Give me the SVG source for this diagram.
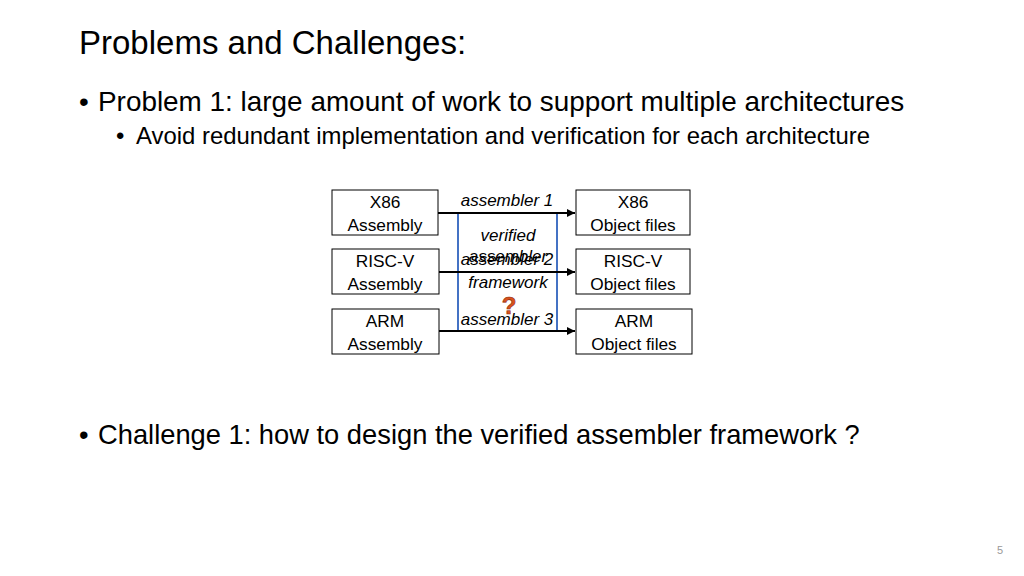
<svg xmlns="http://www.w3.org/2000/svg" width="1024" height="576" viewBox="0 0 1024 576">
<defs>
<style>
text{font-family:"Liberation Sans",Arial,sans-serif;fill:#000}
.title{font-size:33px;font-weight:300}
.b1{font-size:27.9px}
.b3{font-size:27.3px}
.b2{font-size:23.9px}
.nt{font-size:17.3px;text-anchor:middle}
.lab{font-size:17px;font-style:italic;text-anchor:middle}
.box{fill:#fff;stroke:#000;stroke-width:1}
.arr{stroke:#000;stroke-width:2;fill:none}
.blue{stroke:#4472C4;stroke-width:2;fill:none}
</style>
<marker id="ah" viewBox="0 0 10 10" refX="10" refY="5" markerWidth="4" markerHeight="4" orient="auto">
<path d="M0,0 L10,5 L0,10 z" fill="#000"/>
</marker>
</defs>
<rect width="1024" height="576" fill="#fff"/>
<text class="title" x="79" y="54">Problems and Challenges:</text>
<text class="b1" x="79" y="111">•</text>
<text class="b1" x="98" y="111">Problem 1: large amount of work to support multiple architectures</text>
<text class="b2" x="116" y="144">•</text>
<text class="b2" x="136" y="144">Avoid redundant implementation and verification for each architecture</text>
<text class="b3" x="79" y="444">•</text>
<text class="b3" x="98" y="444">Challenge 1: how to design the verified assembler framework ?</text>
<g id="connectors">
<line class="blue" x1="458" y1="213" x2="458" y2="331"/>
<line class="blue" x1="557" y1="213" x2="557" y2="331"/>
<line class="arr" x1="438" y1="213" x2="575" y2="213" marker-end="url(#ah)"/>
<line class="arr" x1="439" y1="272" x2="575" y2="272" marker-end="url(#ah)"/>
<line class="arr" x1="439" y1="331" x2="575" y2="331" marker-end="url(#ah)"/>
</g>
<g id="labels">
<text class="lab" x="507" y="206">assembler 1</text>
<text class="lab" x="508" y="241">verified</text>
<text class="lab" x="508" y="262">assembler</text>
<text class="lab" x="507" y="265">assembler 2</text>
<text class="lab" x="508" y="288">framework</text>
<text x="509" y="314" style="font-size:24px;font-weight:bold;fill:#D9531E;text-anchor:middle;stroke:#8B2A0A;stroke-width:0.6">?</text>
<text class="lab" x="507" y="325">assembler 3</text>
</g>
<g id="n1"><rect class="box" x="332" y="190" width="106" height="45"/><text class="nt" x="385" y="208">X86</text><text class="nt" x="385" y="231">Assembly</text></g>
<g id="n2"><rect class="box" x="332" y="249" width="107" height="45"/><text class="nt" x="385" y="267">RISC-V</text><text class="nt" x="385" y="290">Assembly</text></g>
<g id="n3"><rect class="box" x="332" y="309" width="107" height="45"/><text class="nt" x="385" y="327">ARM</text><text class="nt" x="385" y="350">Assembly</text></g>
<g id="n4"><rect class="box" x="576" y="190" width="114" height="45"/><text class="nt" x="633" y="208">X86</text><text class="nt" x="633" y="231">Object files</text></g>
<g id="n5"><rect class="box" x="576" y="249" width="114" height="45"/><text class="nt" x="633" y="267">RISC-V</text><text class="nt" x="633" y="290">Object files</text></g>
<g id="n6"><rect class="box" x="576" y="309" width="116" height="45"/><text class="nt" x="634" y="327">ARM</text><text class="nt" x="634" y="350">Object files</text></g>
<text x="1000" y="554" style="font-size:11px;fill:#999;text-anchor:middle">5</text>
</svg>
